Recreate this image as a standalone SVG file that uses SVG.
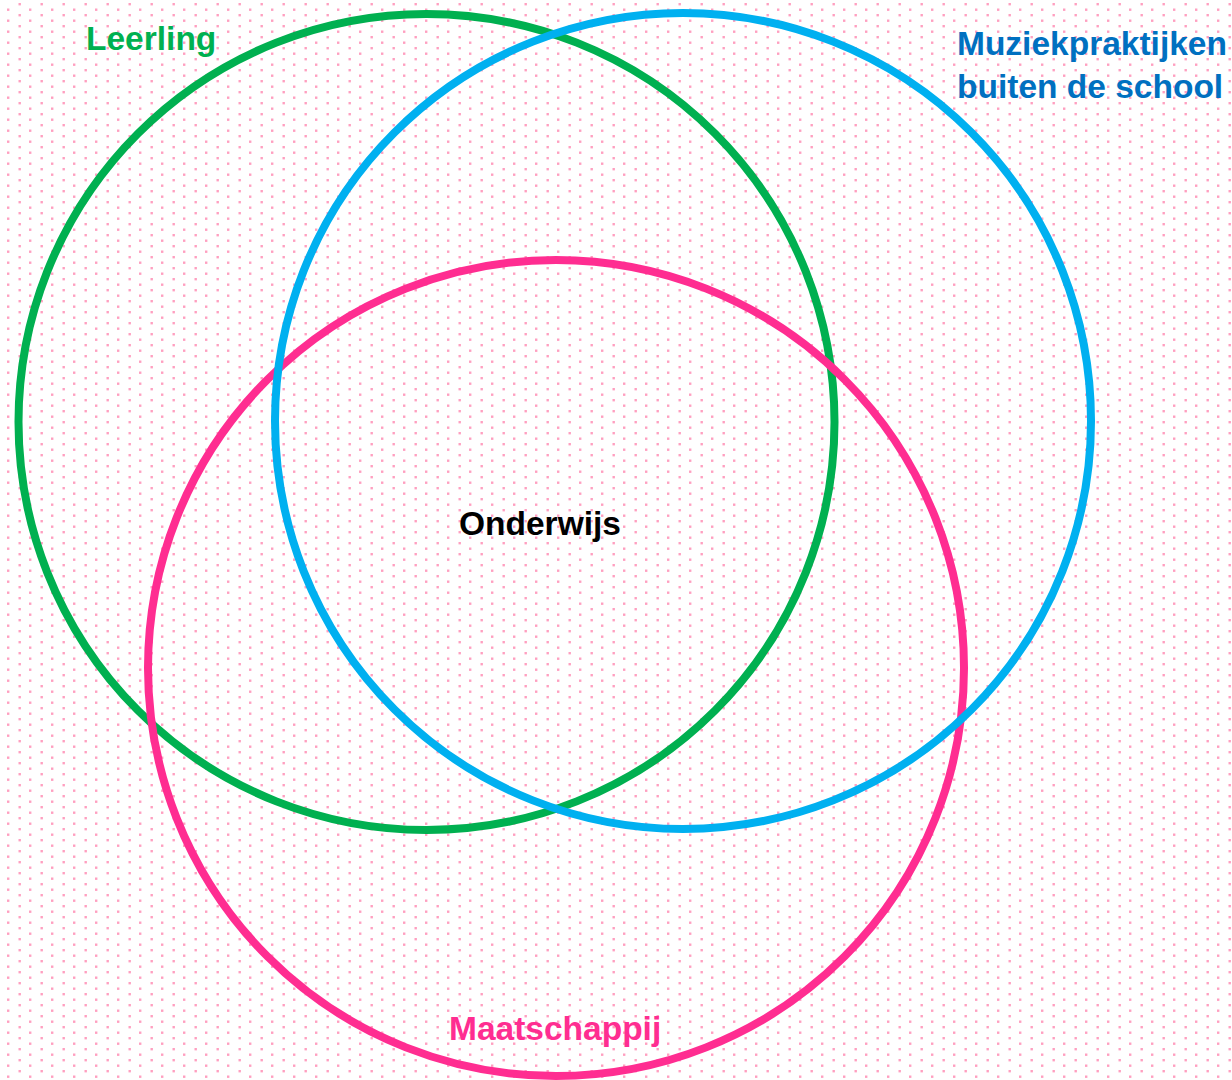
<svg xmlns="http://www.w3.org/2000/svg" width="1232" height="1080" viewBox="0 0 1232 1080">
  <defs>
    <pattern id="dots" patternUnits="userSpaceOnUse" x="0" y="0" width="22" height="11">
      <rect x="7" y="8.5" width="2.4" height="2.4" fill="#ff9fc0"/>
      <rect x="18.5" y="3" width="2.4" height="2.4" fill="#ff9fc0"/>
    </pattern>
  </defs>
  <style>
    .ring { fill: none; stroke-width: 8; }
    .lbl { font-family: "Liberation Sans", Arial, sans-serif; font-weight: bold; font-size: 33.5px; }
  </style>
  <rect x="0" y="0" width="1232" height="1080" fill="#ffffff"/>
  <rect x="0" y="0" width="1232" height="1080" fill="url(#dots)"/>
  <g id="leerling">
    <circle class="ring" cx="426.5" cy="422" r="408" stroke="#00b050"/>
    <text class="lbl" x="86" y="50" fill="#00b050">Leerling</text>
  </g>
  <g id="maatschappij">
    <circle class="ring" cx="556" cy="668" r="408" stroke="#ff2d91"/>
    <text class="lbl" x="449" y="1040" fill="#ff2d91">Maatschappij</text>
  </g>
  <g id="muziekpraktijken">
    <circle class="ring" cx="683" cy="421" r="408" stroke="#00b0f0"/>
    <text class="lbl" x="957" y="55" fill="#0070c0">Muziekpraktijken</text>
    <text class="lbl" x="957" y="98" fill="#0070c0">buiten de school</text>
  </g>
  <g id="onderwijs">
    <text class="lbl" x="459" y="535" fill="#000000">Onderwijs</text>
  </g>
  <g id="connectors"></g>
</svg>
